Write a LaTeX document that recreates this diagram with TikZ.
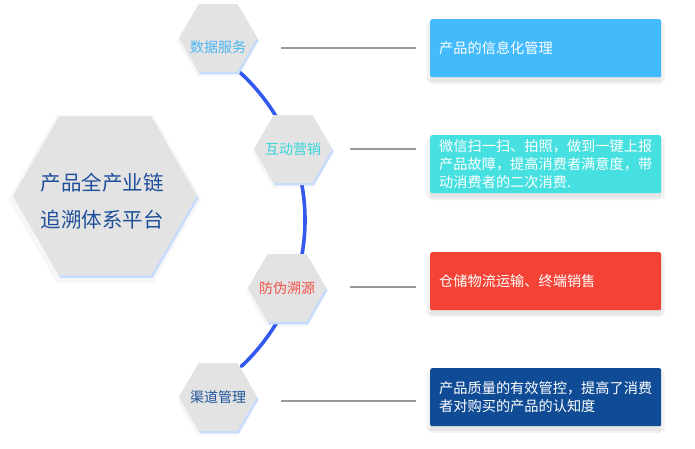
\documentclass[tikz,border=0pt]{standalone}
\usepackage{fontspec}
\setmainfont{Noto Sans CJK SC}
\usepackage{tikz}
\usetikzlibrary{shapes.geometric,shadows,calc,positioning}

\definecolor{hexgray}{HTML}{E3E3E3}
\definecolor{hexedge}{HTML}{C6DCFF}
\definecolor{arcblue}{HTML}{3558EE}
\definecolor{linegray}{HTML}{999999}
\definecolor{skyblue}{HTML}{42BAFC}
\definecolor{aqua}{HTML}{47E0E1}
\definecolor{tomato}{HTML}{F44336}
\definecolor{navy}{HTML}{0F4C95}
\definecolor{titleblue}{HTML}{1F4F9A}
\definecolor{tagsky}{HTML}{4BB6F4}
\definecolor{tagaqua}{HTML}{36D6DA}
\definecolor{tagred}{HTML}{EF5248}
\definecolor{tagnavy}{HTML}{1E5299}

\tikzset{
  hexa/.style={regular polygon, regular polygon sides=6, fill=hexgray,
    inner sep=0pt, outer sep=0pt,
    drop shadow={fill=black, opacity=0.03, shadow xshift=0pt, shadow yshift=-3pt, shadow scale=1.05},
    drop shadow={fill=hexedge, opacity=1, shadow xshift=1.5pt, shadow yshift=-2.5pt}},
  tag/.style={font=\fontsize{14}{17}\selectfont},
  title/.style={font=\fontsize{20.5}{37}\selectfont, text=titleblue, align=center},
  infobox/.style={anchor=north west, rounded corners=2pt, text=white,
    minimum width=231, minimum height=58, text width=213, inner xsep=9pt,
    align=left, font=\fontsize{14.2}{18.3}\selectfont,
    drop shadow={fill=black, opacity=0.05, shadow xshift=0pt, shadow yshift=-7pt},
    drop shadow={fill=black, opacity=0.05, shadow xshift=0pt, shadow yshift=-4pt, shadow scale=1.03}},
  link/.style={draw=linegray, line width=1.6pt, shorten >=14pt},
}

\begin{document}
\begin{tikzpicture}[x=1pt,y=1pt]
    \useasboundingbox (0,0) rectangle (695,-449);

    % the blue arc behind the four small hexagons
    \coordinate (ctr) at (105,-220);
    \draw[arcblue, line width=3.6pt, line cap=round] (ctr) ++(48:200) arc[start angle=48, end angle=-47, radius=200];

    % the platform hexagon
    \node[hexa, minimum size=184] (plat) at (105,-196) {};
    \node[title] at ($(plat)+(-3,-5.5)$) {产品全产业链\\追溯体系平台};

    % the four small hexagons
    \node[hexa, minimum size=78] (sjfw) at (218,-38) {};
    \node[hexa, minimum size=78] (hdyx) at (293,-149) {};
    \node[hexa, minimum size=78] (fwsy) at (287,-288) {};
    \node[hexa, minimum size=78] (qdgl) at (218,-397) {};
    \node[tag, text=tagsky] at ($(sjfw)+(0,-9)$) {数据服务};
    \node[tag, text=tagaqua] at (hdyx) {互动营销};
    \node[tag, text=tagred] at (fwsy) {防伪溯源};
    \node[tag, text=tagnavy] at (qdgl) {渠道管理};

    % the boxes on the right
    \node[infobox, fill=skyblue] (b1) at (430,-19) {产品的信息化管理};
    \node[infobox, fill=aqua] (b2) at (430,-135) {微信扫一扫、拍照，做到一键上报\\产品故障，提高消费者满意度，带\\动消费者的二次消费.};
    \node[infobox, fill=tomato] (b3) at (430,-252) {仓储物流运输、终端销售};
    \node[infobox, fill=navy] (b4) at (430,-368) {产品质量的有效管控，提高了消费\\者对购买的产品的认知度};

    % grey lines from hexagons to boxes
    \coordinate (s1) at ($(sjfw.east)+(24,-10)$);
    \coordinate (s2) at ($(hdyx.east)+(18,0)$);
    \coordinate (s3) at ($(fwsy.east)+(24,1)$);
    \coordinate (s4) at ($(qdgl.east)+(24,-4)$);
    \draw[link] (s1) -- (s1 -| b1.west);
    \draw[link] (s2) -- (s2 -| b2.west);
    \draw[link] (s3) -- (s3 -| b3.west);
    \draw[link] (s4) -- (s4 -| b4.west);
\end{tikzpicture}
\end{document}
